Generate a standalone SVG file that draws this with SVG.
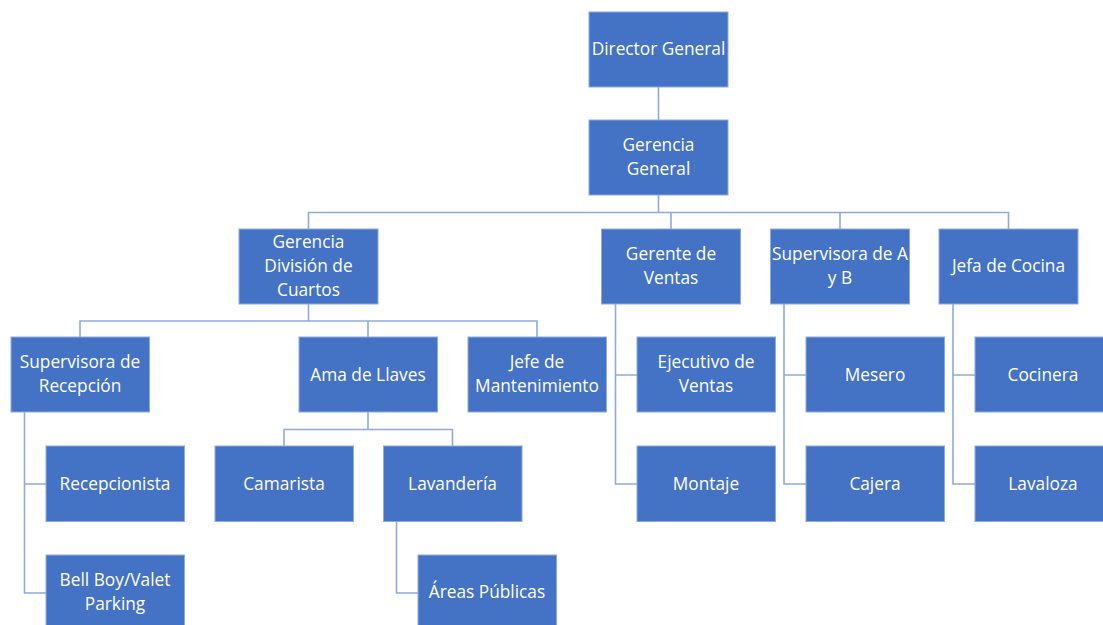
<svg xmlns="http://www.w3.org/2000/svg" width="1103" height="625" viewBox="0 0 1103 625">
<style>
.box{fill:#4472C4;stroke:#8FAADC;stroke-width:1}
.t{fill:#FFFFFF;font-family:"Open Sans","Liberation Sans",sans-serif;font-size:17.3px;text-anchor:middle;dominant-baseline:central}
.c{fill:none;stroke:#8FAADC;stroke-width:1.6}
</style>
<rect width="1103" height="625" fill="#FFFFFF"/>
<g id="connectors">
<path class="c" d="M658.5 87V120"/>
<path class="c" d="M658.5 195V212.5M308.5 229V212.5H1008.5V229M671 212.5V229M840 212.5V229"/>
<path class="c" d="M308.5 304V321M80 337V321H537V337M368 321V337"/>
<path class="c" d="M24.5 412V593H46M24.5 484H46"/>
<path class="c" d="M368 412V429.5M284 446V429.5H452.5V446"/>
<path class="c" d="M396.5 521V593H418"/>
<path class="c" d="M615.5 304V484H637M615.5 375H637"/>
<path class="c" d="M784 304V484H806M784 375H806"/>
<path class="c" d="M953 304V484H975M953 375H975"/>
</g>
<g id="n-director"><rect class="box" x="589" y="12" width="139" height="75"/><text class="t" x="658.5" y="48">Director General</text></g>
<g id="n-gerencia-general"><rect class="box" x="589" y="120" width="139" height="75"/><text class="t" x="658.5" y="144">Gerencia</text><text class="t" x="658.5" y="168">General</text></g>
<g id="n-division-cuartos"><rect class="box" x="239" y="229" width="139" height="75"/><text class="t" x="308.5" y="241">Gerencia</text><text class="t" x="308.5" y="265">División de</text><text class="t" x="308.5" y="289">Cuartos</text></g>
<g id="n-gerente-ventas"><rect class="box" x="601.5" y="229" width="139" height="75"/><text class="t" x="671" y="253">Gerente de</text><text class="t" x="671" y="277">Ventas</text></g>
<g id="n-supervisora-ayb"><rect class="box" x="770.5" y="229" width="139" height="75"/><text class="t" x="840" y="253">Supervisora de A</text><text class="t" x="840" y="277">y B</text></g>
<g id="n-jefa-cocina"><rect class="box" x="939" y="229" width="139" height="75"/><text class="t" x="1008.5" y="265">Jefa de Cocina</text></g>
<g id="n-sup-recepcion"><rect class="box" x="11" y="337" width="138.5" height="75"/><text class="t" x="80" y="361">Supervisora de</text><text class="t" x="80" y="385">Recepción</text></g>
<g id="n-ama-llaves"><rect class="box" x="299" y="337" width="138.5" height="75"/><text class="t" x="368" y="374">Ama de Llaves</text></g>
<g id="n-mantenimiento"><rect class="box" x="468" y="337" width="138.5" height="75"/><text class="t" x="537" y="361">Jefe de</text><text class="t" x="537" y="385">Mantenimiento</text></g>
<g id="n-ejecutivo"><rect class="box" x="637" y="337" width="138.5" height="75"/><text class="t" x="706" y="361">Ejecutivo de</text><text class="t" x="706" y="385">Ventas</text></g>
<g id="n-mesero"><rect class="box" x="806" y="337" width="138.5" height="75"/><text class="t" x="875" y="374">Mesero</text></g>
<g id="n-cocinera"><rect class="box" x="975" y="337" width="138.5" height="75"/><text class="t" x="1043" y="374">Cocinera</text></g>
<g id="n-recepcionista"><rect class="box" x="46" y="446" width="138.5" height="75.5"/><text class="t" x="115" y="483">Recepcionista</text></g>
<g id="n-camarista"><rect class="box" x="215" y="446" width="138.5" height="75.5"/><text class="t" x="284" y="483">Camarista</text></g>
<g id="n-lavanderia"><rect class="box" x="383.5" y="446" width="138.5" height="75.5"/><text class="t" x="452.5" y="483">Lavandería</text></g>
<g id="n-montaje"><rect class="box" x="637" y="446" width="138.5" height="75.5"/><text class="t" x="706" y="483">Montaje</text></g>
<g id="n-cajera"><rect class="box" x="806" y="446" width="138.5" height="75.5"/><text class="t" x="875" y="483">Cajera</text></g>
<g id="n-lavaloza"><rect class="box" x="975" y="446" width="138.5" height="75.5"/><text class="t" x="1043" y="483">Lavaloza</text></g>
<g id="n-bellboy"><rect class="box" x="46" y="555" width="138.5" height="75"/><text class="t" x="115" y="579">Bell Boy/Valet</text><text class="t" x="115" y="603">Parking</text></g>
<g id="n-areas-publicas"><rect class="box" x="418" y="555" width="138.5" height="75"/><text class="t" x="487" y="591">Áreas Públicas</text></g>
</svg>
